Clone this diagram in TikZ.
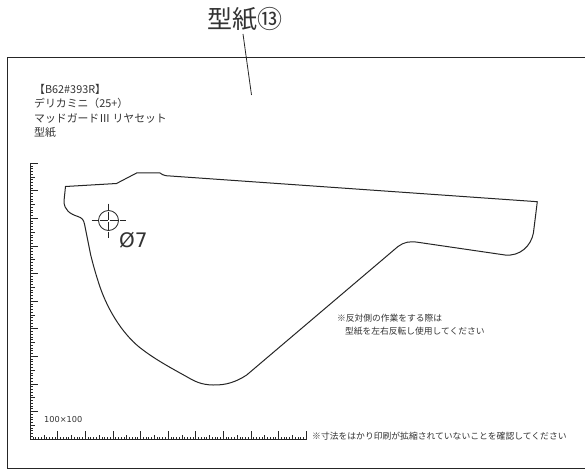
\documentclass[tikz,border=0pt]{standalone}
\usepackage{fontspec}
\setmainfont{Noto Sans CJK JP}
\newfontfamily\latinf{DejaVu Sans}
\definecolor{txt}{HTML}{333333}
\tikzset{
  x=1pt,y=-1pt,
  outline/.style={line width=1pt,color=black!85},
  small/.style={font=\fontsize{9}{14}\selectfont,text=txt,inner sep=0pt,anchor=west,align=left},
  rulerline/.style={line width=0.6pt,color=black!85},
}
\begin{document}
\begin{tikzpicture}
\useasboundingbox (0,0) rectangle (585,470);
\fill[white] (0,0) rectangle (585,470);
% frame
\draw[line width=1pt,color=black!85] (585,57.5) -- (7.5,57.5) -- (7.5,468) -- (585,468);
% title and leader
\node[inner sep=0pt,font=\fontsize{25}{28}\selectfont,text=txt] (title) at (245,19) {型紙⑬};
\coordinate (leaderend) at (251.5,95);
\draw[line width=0.8pt,color=black!85] (243,34) -- (leaderend);
% header text
\node[small,font=\fontsize{10.85}{14.2}\selectfont] (head) at (34,111) {【B62\#393R】\\デリカミニ（25+）\\マッドガードⅢ リヤセット\\型紙};
% ruler
\draw[rulerline] (30,163) -- (30,439) -- (306,439) -- (306,435);
\foreach \k in {0,...,100}{
  \pgfmathsetmacro{\p}{\k*2.76}
  \pgfmathtruncatemacro{\mten}{mod(\k,10)}
  \pgfmathtruncatemacro{\mfive}{mod(\k,5)}
  \pgfmathsetmacro{\len}{\mten==0?8:(\mfive==0?4.5:2.5)}
  \draw[line width=0.45pt,color=black!85] (30+\p,439) -- ++(0,-\len);
  \draw[line width=0.45pt,color=black!85] (30,439-\p) -- ++(\len,0);
}
\node[small,font=\latinf\fontsize{8.2}{9}\selectfont] (scale) at (44,420) {100×100};
% template outline
\draw[outline,line join=round] (65.5,186.5) -- (116.5,183.5) -- (137,172.8) -- (160,173)
  .. controls (162,174) and (163,175.5) .. (166,175.7)
  -- (537.3,201.7) -- (533.4,233)
  .. controls (531,246) and (520,256.5) .. (505,255)
  -- (418,242.3)
  .. controls (410,241) and (404,242) .. (398,246.5)
  -- (246.7,375)
  .. controls (236,382) and (226,385.3) .. (213,385)
  .. controls (201,384.7) and (195,381.5) .. (186.7,376.7)
  .. controls (172,368.5) and (157,360.5) .. (143,350)
  .. controls (125,337) and (109,313) .. (100,287)
  .. controls (95,272) and (93,264) .. (90.7,255)
  -- (84.5,224)
  .. controls (83.5,219.5) and (82,218) .. (78,216.5)
  .. controls (70,214) and (64,210) .. (64,201)
  -- cycle;
% hole
\draw[line width=0.8pt,color=black!85] (108.5,220.5) circle (10);
\draw[line width=0.6pt,color=black!85,dash pattern=on 6pt off 2pt on 8pt off 2pt on 8pt off 2pt on 6pt] (91.5,220.5) -- (125.5,220.5);
\draw[line width=0.6pt,color=black!85,dash pattern=on 6pt off 2pt on 8pt off 2pt on 8pt off 2pt on 6pt] (108.5,203.5) -- (108.5,237.5);
\node[inner sep=0pt,anchor=west,font=\latinf\fontsize{20}{22}\selectfont,text=txt] (dia) at (119,240) {Ø7};
% notes
\node[small,font=\fontsize{8.75}{12.6}\selectfont] (note) at (337,325) {※反対側の作業をする際は\\\hspace*{8pt}型紙を左右反転し使用してください};
\node[small,font=\fontsize{8.8}{9}\selectfont] (note2) at (312,436) {※寸法をはかり印刷が拡縮されていないことを確認してください};
\end{tikzpicture}
\end{document}
